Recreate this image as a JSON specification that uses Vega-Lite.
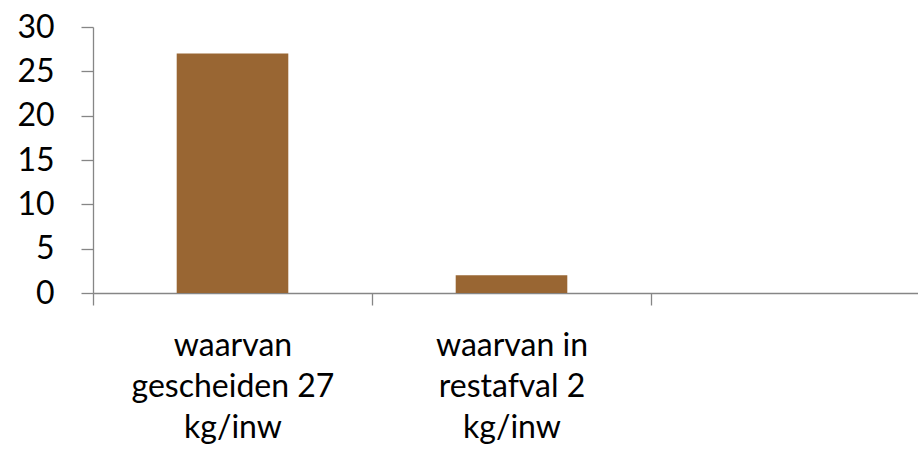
{
  "$schema": "https://vega.github.io/schema/vega-lite/v6.json",
  "autosize": {"type": "none"},
  "padding": {"left": 93, "top": 27, "right": 0, "bottom": 170},
  "width": 837,
  "height": 266,
  "background": "white",
  "data": {
    "values": [
      {"categorie": "waarvan|gescheiden 27|kg/inw", "waarde": 27},
      {"categorie": "waarvan in|restafval 2|kg/inw", "waarde": 2}
    ]
  },
  "mark": {"type": "bar", "color": "#996633", "width": {"band": 0.4}},
  "encoding": {
    "x": {
      "field": "categorie",
      "type": "nominal",
      "sort": null,
      "scale": {
        "domain": ["waarvan|gescheiden 27|kg/inw", "waarvan in|restafval 2|kg/inw", "-"],
        "paddingInner": 0,
        "paddingOuter": 0
      },
      "axis": {
        "title": null,
        "labelAngle": 0,
        "labelExpr": "isValid(datum.value) && datum.value != '-' ? split(datum.value, '|') : ''",
        "labelFont": "Lato",
        "labelFontSize": 32,
        "labelColor": "#000000",
        "labelLineHeight": 41,
        "labelPadding": 25,
        "labelLimit": 0,
        "tickBand": "extent",
        "tickSize": 12,
        "tickColor": "#868686",
        "domainColor": "#868686",
        "tickWidth": 1.3,
        "domainWidth": 1.3,
        "grid": false
      }
    },
    "y": {
      "field": "waarde",
      "type": "quantitative",
      "scale": {"domain": [0, 30], "nice": false},
      "axis": {
        "title": null,
        "values": [0, 5, 10, 15, 20, 25, 30],
        "labelFont": "Lato",
        "labelFontSize": 32,
        "labelColor": "#000000",
        "labelPadding": 27,
        "tickSize": 12,
        "tickColor": "#868686",
        "domainColor": "#868686",
        "tickWidth": 1.3,
        "domainWidth": 1.3,
        "grid": false
      }
    }
  },
  "config": {"view": {"stroke": null}}
}
